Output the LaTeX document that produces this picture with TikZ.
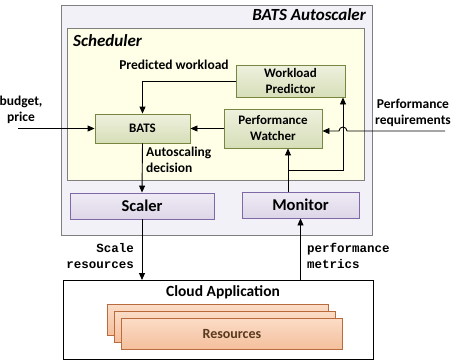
\documentclass[tikz,border=0pt]{standalone}
\usepackage{fontspec}
\setmainfont{Carlito}
\newfontfamily\monofont{Liberation Mono}
\usetikzlibrary{arrows.meta,shadows}
\definecolor{outerfill}{HTML}{F2F1F7}
\definecolor{outerdraw}{HTML}{7F7F7F}
\definecolor{schedfill}{HTML}{FFFFE8}
\definecolor{greentop}{HTML}{EEF1DE}
\definecolor{greenbot}{HTML}{D6DEB8}
\definecolor{greendraw}{HTML}{77873F}
\definecolor{purptop}{HTML}{EFEBF5}
\definecolor{purpbot}{HTML}{DDD6E8}
\definecolor{purpdraw}{HTML}{7E68A6}
\definecolor{orgtop}{HTML}{FBDCC6}
\definecolor{orgbot}{HTML}{F4BF9C}
\definecolor{orgdraw}{HTML}{B86B3C}
\definecolor{restext}{HTML}{5A3A1E}
\tikzset{
  greenbox/.style={draw=greendraw, line width=0.9pt, top color=greentop, bottom color=greenbot,
    drop shadow={shadow xshift=1pt, shadow yshift=-1pt, fill=black!25},
    font=\fontsize{13}{16}\selectfont\bfseries, align=center, inner sep=0pt},
  purpbox/.style={draw=purpdraw, line width=0.9pt, top color=purptop, bottom color=purpbot,
    drop shadow={shadow xshift=1pt, shadow yshift=-1pt, fill=black!25},
    font=\fontsize{16.5}{18}\selectfont\bfseries, inner sep=0pt},
  resbox/.style={draw=orgdraw, line width=0.8pt, top color=orgtop, bottom color=orgbot,
    drop shadow={shadow xshift=1pt, shadow yshift=-1pt, fill=black!25}},
  arr/.style={-{Triangle[length=7pt,width=6pt]}, line width=0.9pt},
  lbl/.style={font=\fontsize{13.5}{15.5}\selectfont\bfseries, inner sep=0pt},
  mono/.style={font=\fontsize{12.5}{16}\selectfont\monofont\bfseries, inner sep=0pt},
}
\begin{document}
\begin{tikzpicture}[x=1pt,y=-1pt]
\useasboundingbox (0,0) rectangle (451,360);
% outer
\node[draw=outerdraw, fill=outerfill, line width=0.9pt, minimum width=311pt, minimum height=230pt, anchor=north west, inner sep=0pt] (auto) at (61,5) {};
\node[anchor=north east, font=\fontsize{17}{19}\selectfont\bfseries\itshape, inner sep=0pt] (autot) at (366,8) {BATS Autoscaler};
\node[draw=outerdraw, fill=schedfill, line width=0.9pt, minimum width=297pt, minimum height=152pt, anchor=north west, inner sep=0pt] (sched) at (67,28) {};
\node[anchor=north west, font=\fontsize{17}{19}\selectfont\bfseries\itshape, inner sep=0pt] (schedt) at (73,34) {Scheduler};
% boxes
\node[greenbox, minimum width=109pt, minimum height=32pt] (wp) at (290.5,81) {Workload\\Predictor};
\node[greenbox, minimum width=95pt, minimum height=29pt] (bats) at (142.5,128.5) {BATS};
\node[greenbox, minimum width=98pt, minimum height=39pt] (pw) at (273,128.5) {Performance\\Watcher};
\node[purpbox, minimum width=144pt, minimum height=26pt] (scaler) at (142,206) {Scaler};
\node[purpbox, minimum width=117pt, minimum height=26pt] (mon) at (300.5,205) {Monitor};
% cloud
\node[draw=black, fill=white, line width=0.9pt, minimum width=310pt, minimum height=79pt, anchor=north west, inner sep=0pt] (cloud) at (63,280) {};
\node[font=\fontsize{15.5}{17}\selectfont\bfseries, inner sep=0pt] (cloudt) at (223,292) {Cloud Application};
\node[resbox, minimum width=221pt, minimum height=31pt, anchor=north west, inner sep=0pt] (r1) at (107,304) {};
\node[resbox, minimum width=221pt, minimum height=31pt, anchor=north west, inner sep=0pt] (r2) at (114,311) {};
\node[resbox, minimum width=221pt, minimum height=31pt, anchor=north west, inner sep=0pt, text=restext, font=\fontsize{14}{16}\selectfont\bfseries] (r3) at (121,318) {Resources};
% labels
\node[lbl, anchor=south] (predl) at (174,70) {Predicted workload};
\node[lbl, anchor=north west, align=left] (asl) at (146,147) {Autoscaling\\decision};
\node[lbl, align=center] (budl) at (21,110) {budget,\\price};
\node[lbl, align=center] (perfl) at (413,113) {Performance\\requirements};
\node[mono, anchor=east, align=right] (scl) at (134,256) {Scale\\resources};
\node[mono, anchor=west, align=left] (pml) at (307,256) {performance\\metrics};
% coordinates
\coordinate (bin) at (18,128.5);
\coordinate (pin) at (445,131);
\coordinate (br) at (288,170);
\coordinate (bc) at (343,170);
% connectors
\draw[arr] (wp.west) -| (bats.north);
\draw[arr] (pw.west) -- (bats.east);
\draw[arr] (bin) -- (bats.west);
\draw[arr] (bats.south) -- (scaler.north);
\draw[arr] (mon.north -| br) -- (pw.south -| br);
\draw[arr] (br) -- (bc) -- (wp.south -| bc);
\draw[arr] (pin) -- (347,131) arc[start angle=0, end angle=180, radius=4pt] -- (pw.east |- pin);
\draw[arr] (scaler.south) -- (scaler.south |- cloud.north);
\draw[arr] (cloud.north -| mon.south) -- (mon.south);
\end{tikzpicture}
\end{document}
